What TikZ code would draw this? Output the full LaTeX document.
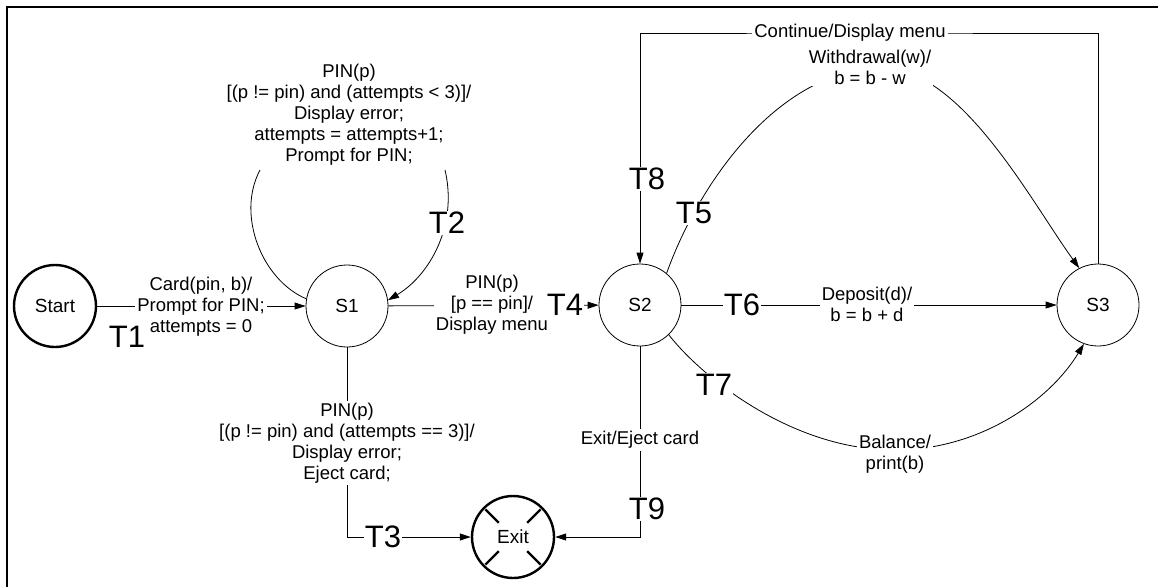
\documentclass[tikz,border=0pt]{standalone}
\usepackage{fontspec}
\setmainfont{Liberation Sans}
\usetikzlibrary{arrows.meta, positioning}
\tikzset{
    estado/.style={draw, circle, minimum size=82pt, inner sep=0pt, line width=0.8pt, font=\fontsize{19}{21}\selectfont},
    extremo/.style={estado, line width=2.4pt},
    texto/.style={fill=white, align=center, inner sep=2pt, font=\fontsize{18.5}{21}\selectfont},
    tnum/.style={fill=white, inner sep=1pt, font=\fontsize{31}{33}\selectfont},
    flecha/.style={-{Triangle[length=11pt,width=7pt]}, line width=0.8pt},
    linea/.style={line width=0.8pt},
}
\begin{document}
\begin{tikzpicture}[x=1pt, y=-1pt]
\useasboundingbox (0,0) rectangle (1158,587);

% Marco: solo se ven los lados de arriba y de la izquierda
\draw[line width=2.6pt] (1158,7) -- (7,7) -- (7,587);

% Estados
\node[extremo] (start) at (55,306) {Start};
\node[estado] (s1) at (347,306) {S1};
\node[estado] (s2) at (640,305) {S2};
\node[estado] (s3) at (1098,305) {S3};
\node[extremo] (exit) at (513,537) {Exit};
\foreach \a in {45,135,225,315} {
    \draw[line width=2.4pt] ([shift={(\a:20)}]exit.center) -- ([shift={(\a:39)}]exit.center);
}

% Transiciones
\draw[flecha] (start) -- (s1);
\coordinate (t2izq) at (260,170);
\coordinate (t2der) at (445,170);
\draw[linea] (s1.170) .. controls (262,280) and (236,215) .. (t2izq);
\draw[flecha] (t2der) .. controls (458,225) and (430,275) .. (s1.8);
\draw[flecha] (s1.south) |- (exit.west);
\draw[flecha] (s1) -- (s2);
\draw[flecha] (s2.50) .. controls (700,180) and (780,70) .. (880,68)
    .. controls (960,66) and (1030,200) .. (s3.117);
\draw[flecha] (s2) -- (s3);
\draw[flecha] (s2.-46) .. controls (700,375) and (790,450) .. (895,450)
    .. controls (980,450) and (1050,400) .. (s3.-110);
\coordinate (cima) at (850,33);
\draw[flecha] (s3.north) |- (cima) -| (s2.north);
\draw[flecha] (s2.south) |- (exit.east);

% Textos de las transiciones
\node[texto] (e1) at (201,307) {Card(pin, b)/\\Prompt for PIN;\\attempts = 0};
\node[texto] (e2) at (349,115) {PIN(p)\\{}[(p != pin) and (attempts < 3)]/\\Display error;\\attempts = attempts+1;\\Prompt for PIN;};
\node[texto] (e3) at (347,443) {PIN(p)\\{}[(p != pin) and (attempts == 3)]/\\Display error;\\Eject card;};
\node[texto] (e4) at (492,305) {PIN(p)\\{}[p == pin]/\\Display menu};
\node[texto] (e5) at (870,67) {Withdrawal(w)/\\b = b - w};
\node[texto] (e6) at (867,304) {Deposit(d)/\\b = b + d};
\node[texto] (e7) at (895,454) {Balance/\\print(b)};
\node[texto] (e8) at (cima) {Continue/Display menu};
\node[texto] (e9) at (640,440) {Exit/Eject card};

% Nombres de las transiciones
\node[tnum, fill=none] (t1) at (127,337) {T1};
\node[tnum] (t2) at (447,223) {T2};
\node[tnum] (t3) at (383,537) {T3};
\node[tnum] (t4) at (565,305) {T4};
\node[tnum] (t5) at (694,213) {T5};
\node[tnum] (t6) at (742,305) {T6};
\node[tnum] (t7) at (714,385) {T7};
\node[tnum] (t8) at (647,179) {T8};
\node[tnum] (t9) at (647,509) {T9};
\end{tikzpicture}
\end{document}
